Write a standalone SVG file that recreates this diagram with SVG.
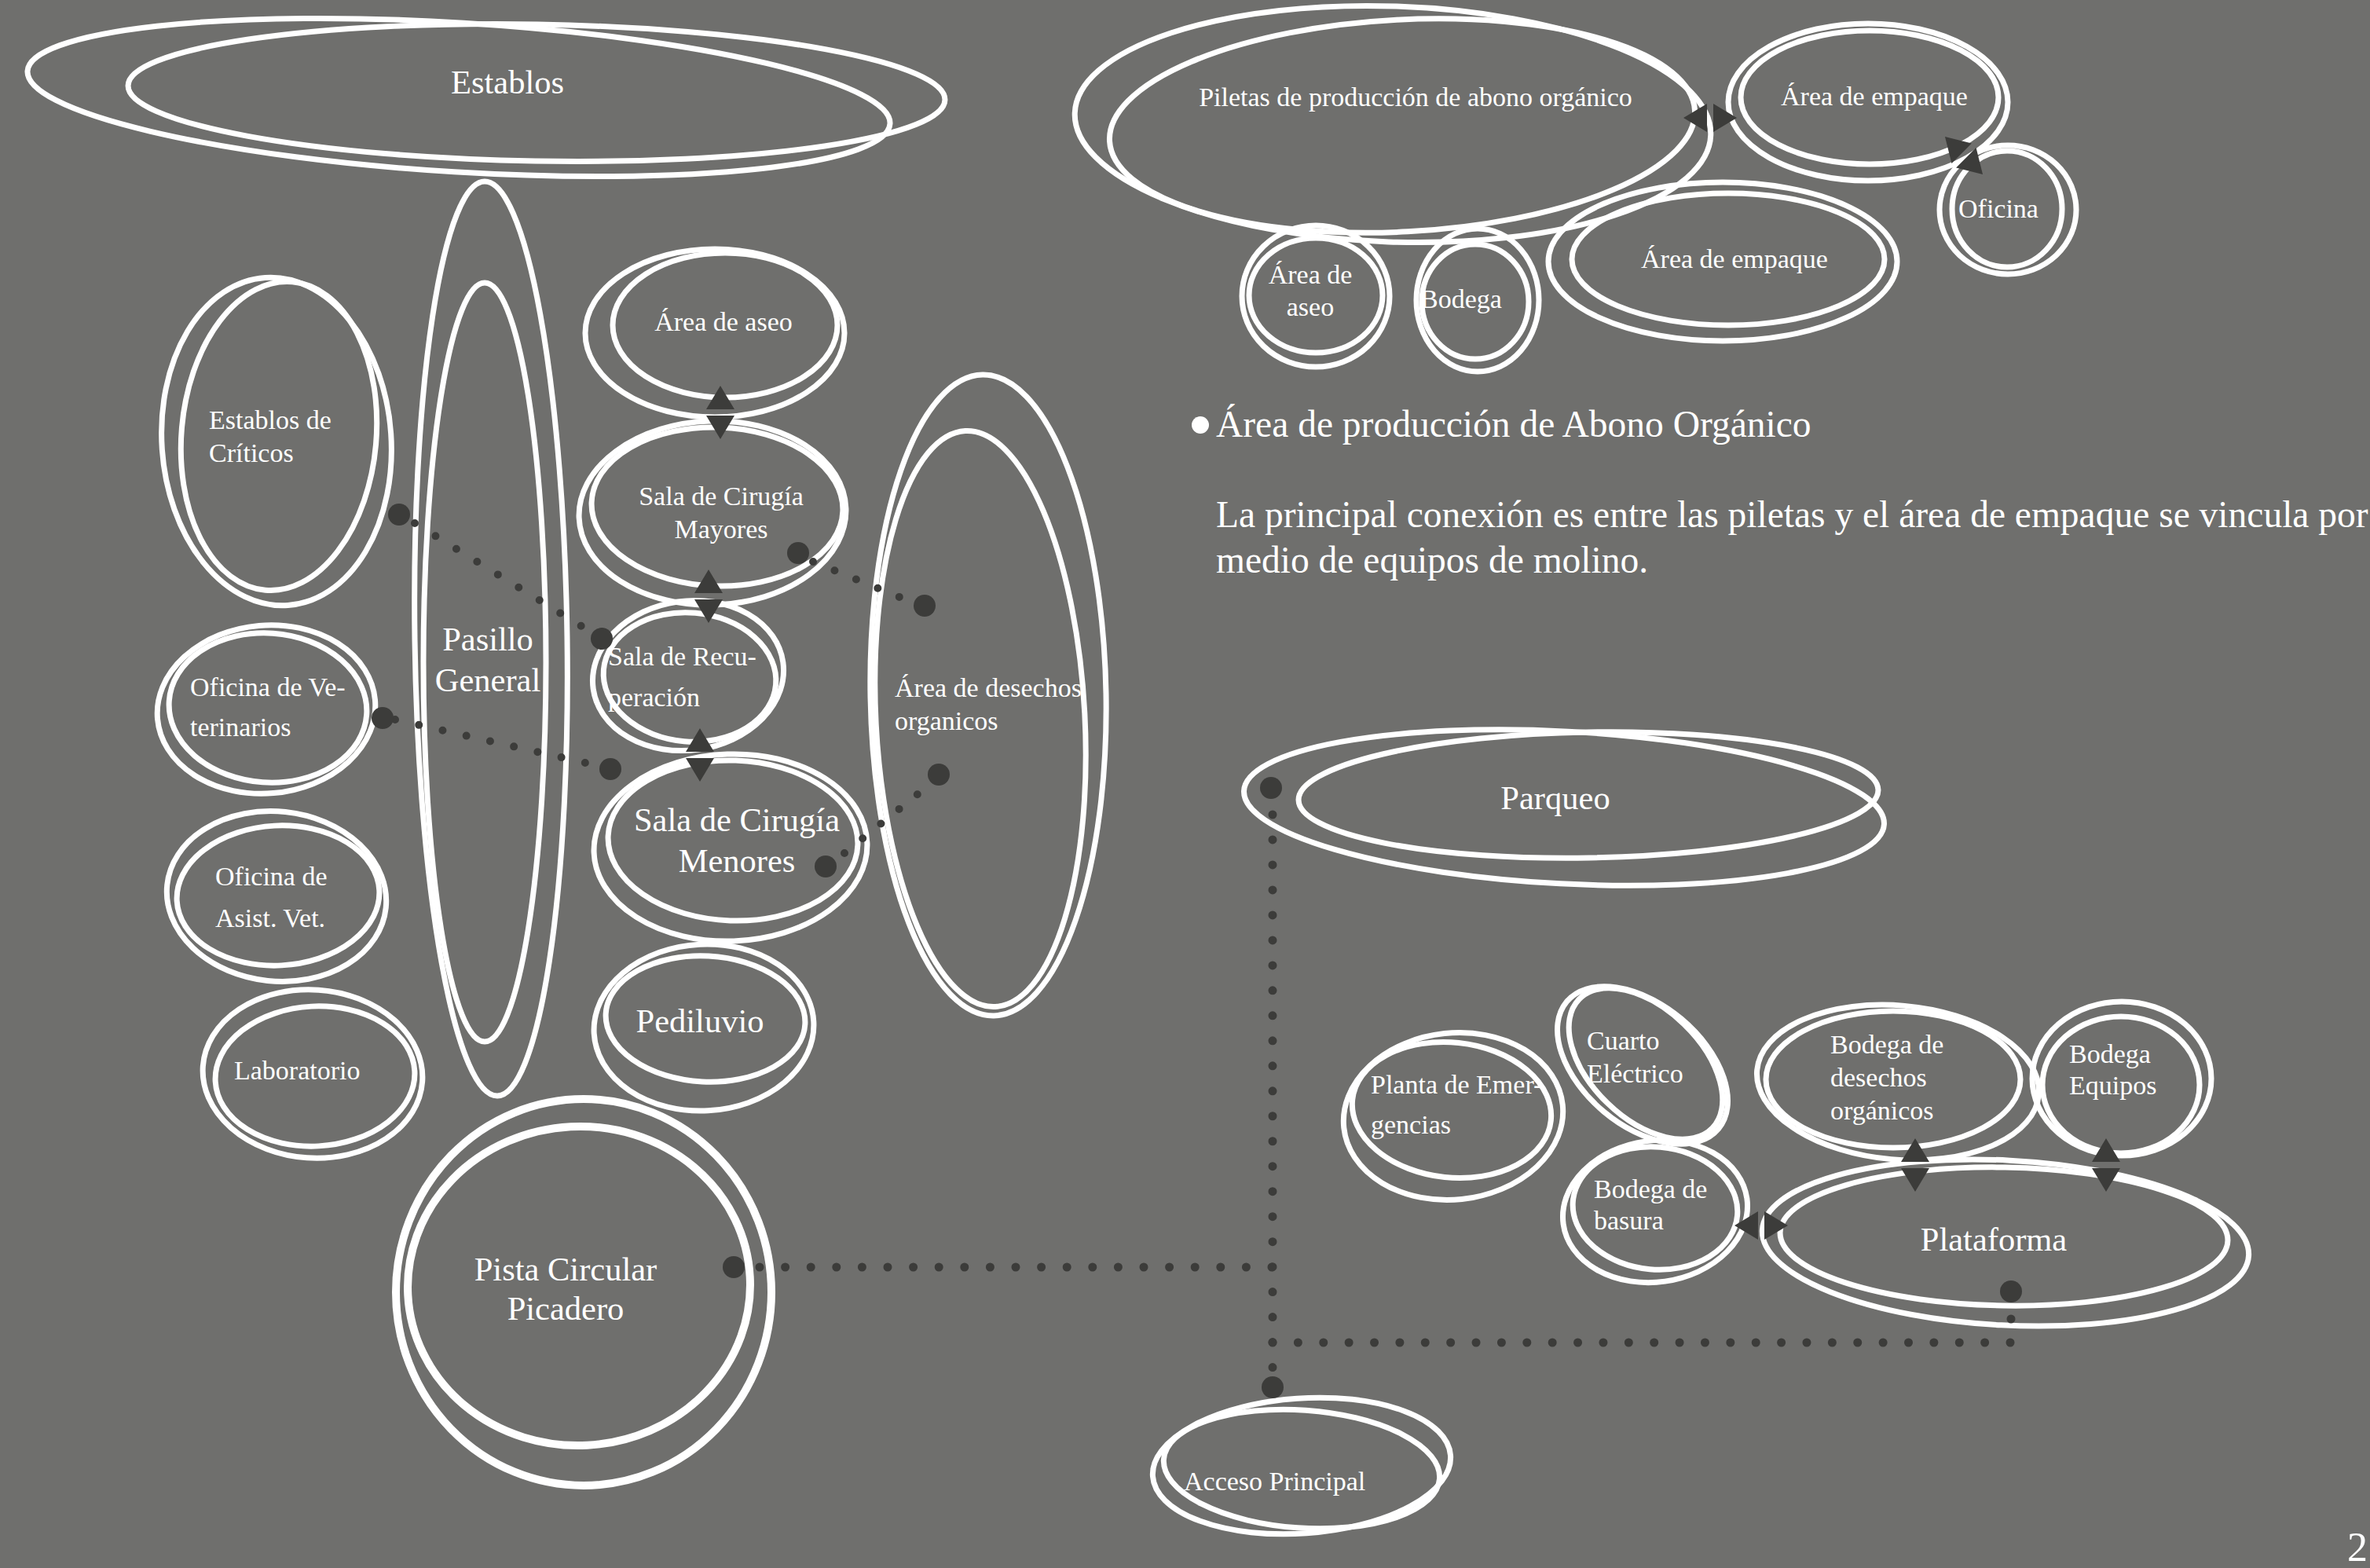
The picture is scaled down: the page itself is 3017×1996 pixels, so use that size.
<svg xmlns="http://www.w3.org/2000/svg" xmlns:xlink="http://www.w3.org/1999/xlink" width="3017" height="1996" viewBox="0 0 3017 1996">
<style>
.e{fill:none;stroke:#fff;stroke-width:7}
.ew{fill:none;stroke:#fff;stroke-width:10}
.t{font-family:"Liberation Serif","Times New Roman",serif;fill:#fff}
.s{font-size:34px}
.l{font-size:42.5px}
.p{font-size:47.5px}
.m{text-anchor:middle}
.dot{fill:#3c3c3a}
.dl{fill:none;stroke:#3c3c3a;stroke-linecap:round}
.arr{fill:#3c3c3a}
</style>
<defs>
<path id="dbl" d="M0,-34 L-18,-4 L18,-4 Z M-18,4 L18,4 L0,34 Z"/>
</defs>
<rect width="3017" height="1996" fill="#6f6f6d"/>

<g id="establos">
<ellipse class="e" cx="584" cy="124" rx="550" ry="95" transform="rotate(3.5 584 124)"/>
<ellipse class="e" cx="683" cy="118" rx="520" ry="87" transform="rotate(1 683 118)"/>
<text class="t l m" x="646" y="119">Establos</text>
</g>

<g id="pasillo-general">
<ellipse class="e" cx="625" cy="813" rx="97" ry="582" transform="rotate(-0.8 625 813)"/>
<ellipse class="e" cx="617" cy="843" rx="78" ry="483"/>
<text class="t l m" x="621" y="828">Pasillo</text>
<text class="t l m" x="621" y="880">General</text>
</g>

<g id="establos-criticos">
<ellipse class="e" cx="352" cy="562" rx="146" ry="209" transform="rotate(-4 352 562)"/>
<ellipse class="e" cx="355" cy="555" rx="124" ry="197" transform="rotate(5 355 555)"/>
<text class="t s" x="266" y="546">Establos de</text>
<text class="t s" x="266" y="588">Críticos</text>
</g>

<g id="oficina-veterinarios">
<ellipse class="e" cx="339" cy="903" rx="139" ry="107" transform="rotate(-5 339 903)"/>
<ellipse class="e" cx="341" cy="901" rx="126" ry="95" transform="rotate(4 341 901)"/>
<text class="t s" x="242" y="886">Oficina de Ve-</text>
<text class="t s" x="242" y="937">terinarios</text>
</g>

<g id="oficina-asist-vet">
<ellipse class="e" cx="352" cy="1141" rx="140" ry="108" transform="rotate(6 352 1141)"/>
<ellipse class="e" cx="354" cy="1140" rx="129" ry="89" transform="rotate(-3 354 1140)"/>
<text class="t s" x="274" y="1127">Oficina de</text>
<text class="t s" x="274" y="1180">Asist. Vet.</text>
</g>

<g id="laboratorio">
<ellipse class="e" cx="398" cy="1367" rx="140" ry="107" transform="rotate(4 398 1367)"/>
<ellipse class="e" cx="401" cy="1370" rx="127" ry="89" transform="rotate(-3 401 1370)"/>
<text class="t s" x="298" y="1374">Laboratorio</text>
</g>

<g id="area-aseo-1">
<ellipse class="e" cx="910" cy="424" rx="165" ry="107"/>
<ellipse class="e" cx="923" cy="414" rx="143" ry="92"/>
<text class="t s m" x="921" y="421">Área de aseo</text>
</g>

<g id="cirugia-mayores">
<ellipse class="e" cx="907" cy="653" rx="170" ry="117" transform="rotate(-2 907 653)"/>
<ellipse class="e" cx="913" cy="645" rx="160" ry="101" transform="rotate(2 913 645)"/>
<text class="t s m" x="918" y="643">Sala de Cirugía</text>
<text class="t s m" x="918" y="685">Mayores</text>
</g>

<g id="recuperacion">
<ellipse class="e" cx="876" cy="860" rx="122" ry="95" transform="rotate(-8 876 860)"/>
<ellipse class="e" cx="878" cy="862" rx="110" ry="82" transform="rotate(5 878 862)"/>
<text class="t s" x="774" y="847">Sala de Recu-</text>
<text class="t s" x="774" y="899">peración</text>
</g>

<g id="cirugia-menores">
<ellipse class="e" cx="930" cy="1079" rx="174" ry="119" transform="rotate(-2 930 1079)"/>
<ellipse class="e" cx="933" cy="1070" rx="159" ry="102" transform="rotate(2 933 1070)"/>
<text class="t l m" x="938" y="1058">Sala de Cirugía</text>
<text class="t l m" x="938" y="1110">Menores</text>
</g>

<g id="pediluvio">
<ellipse class="e" cx="896" cy="1308" rx="140" ry="106" transform="rotate(-3 896 1308)"/>
<ellipse class="e" cx="898" cy="1297" rx="127" ry="80" transform="rotate(3 898 1297)"/>
<text class="t l m" x="891" y="1314">Pediluvio</text>
</g>

<g id="desechos-organicos">
<ellipse class="e" cx="1258" cy="885" rx="150" ry="408" transform="rotate(-1 1258 885)"/>
<ellipse class="e" cx="1248" cy="915" rx="133" ry="367" transform="rotate(-3 1248 915)"/>
<text class="t s" x="1139" y="887">Área de desechos</text>
<text class="t s" x="1139" y="929">organicos</text>
</g>

<g id="pista-circular">
<ellipse class="ew" cx="743" cy="1645" rx="239" ry="246"/>
<ellipse class="ew" cx="737" cy="1637" rx="218" ry="203" transform="rotate(-3 737 1637)"/>
<text class="t l m" x="720" y="1630">Pista Circular</text>
<text class="t l m" x="720" y="1680">Picadero</text>
</g>

<g id="piletas">
<ellipse class="e" cx="1773" cy="158" rx="405" ry="150" transform="rotate(2 1773 158)"/>
<ellipse class="e" cx="1785" cy="160" rx="373" ry="135" transform="rotate(-3 1785 160)"/>
<text class="t s m" x="1802" y="135">Piletas de producción de abono orgánico</text>
</g>

<g id="area-empaque-1">
<ellipse class="e" cx="2378" cy="130" rx="178" ry="100"/>
<ellipse class="e" cx="2380" cy="124" rx="164" ry="85"/>
<text class="t s m" x="2386" y="134">Área de empaque</text>
</g>

<g id="oficina">
<ellipse class="e" cx="2556" cy="267" rx="87" ry="82"/>
<ellipse class="e" cx="2555" cy="266" rx="70" ry="74"/>
<text class="t s" x="2493" y="277">Oficina</text>
</g>

<g id="area-aseo-2">
<ellipse class="e" cx="1675" cy="377" rx="94" ry="90"/>
<ellipse class="e" cx="1675" cy="376" rx="85" ry="73"/>
<text class="t s m" x="1668" y="361">Área de</text>
<text class="t s m" x="1668" y="402">aseo</text>
</g>

<g id="bodega-1">
<ellipse class="e" cx="1881" cy="382" rx="78" ry="91"/>
<ellipse class="e" cx="1878" cy="384" rx="68" ry="73"/>
<text class="t s" x="1808" y="392">Bodega</text>
</g>

<g id="area-empaque-2">
<ellipse class="e" cx="2193" cy="333" rx="222" ry="101"/>
<ellipse class="e" cx="2200" cy="330" rx="199" ry="84"/>
<text class="t s m" x="2208" y="341">Área de empaque</text>
</g>

<g id="nota">
<circle fill="#fff" cx="1528" cy="541" r="11"/>
<text class="t p" x="1548" y="556">Área de producción de Abono Orgánico</text>
<text class="t p" x="1548" y="671">La principal conexión es entre las piletas y el área de empaque se vincula por</text>
<text class="t p" x="1548" y="729">medio de equipos de molino.</text>
</g>

<g id="parqueo">
<ellipse class="e" cx="1991" cy="1028" rx="408" ry="97" transform="rotate(3 1991 1028)"/>
<ellipse class="e" cx="2022" cy="1012" rx="369" ry="80" transform="rotate(-1 2022 1012)"/>
<text class="t l m" x="1980" y="1030">Parqueo</text>
</g>

<g id="acceso-principal">
<ellipse class="e" cx="1657" cy="1866" rx="190" ry="86" transform="rotate(-4 1657 1866)"/>
<ellipse class="e" cx="1657" cy="1870" rx="176" ry="75" transform="rotate(4 1657 1870)"/>
<text class="t s" x="1507" y="1897">Acceso Principal</text>
</g>

<g id="planta-emergencias">
<ellipse class="e" cx="1850" cy="1421" rx="140" ry="106" transform="rotate(-6 1850 1421)"/>
<ellipse class="e" cx="1848" cy="1413" rx="127" ry="86" transform="rotate(6 1848 1413)"/>
<text class="t s" x="1745" y="1392">Planta de Emer-</text>
<text class="t s" x="1745" y="1443">gencias</text>
</g>

<g id="cuarto-electrico">
<ellipse class="e" cx="2091" cy="1356" rx="126" ry="77" transform="rotate(40 2091 1356)"/>
<ellipse class="e" cx="2095" cy="1354" rx="118" ry="70" transform="rotate(44 2095 1354)"/>
<text class="t s" x="2020" y="1336">Cuarto</text>
<text class="t s" x="2020" y="1378">Eléctrico</text>
</g>

<g id="bodega-basura">
<ellipse class="e" cx="2107" cy="1542" rx="118" ry="90" transform="rotate(-8 2107 1542)"/>
<ellipse class="e" cx="2107" cy="1538" rx="105" ry="78" transform="rotate(5 2107 1538)"/>
<text class="t s" x="2029" y="1525">Bodega de</text>
<text class="t s" x="2029" y="1565">basura</text>
</g>

<g id="bodega-desechos">
<ellipse class="e" cx="2416" cy="1378" rx="180" ry="98" transform="rotate(5 2416 1378)"/>
<ellipse class="e" cx="2410" cy="1374" rx="162" ry="87"/>
<text class="t s" x="2330" y="1341">Bodega de</text>
<text class="t s" x="2330" y="1383">desechos</text>
<text class="t s" x="2330" y="1425">orgánicos</text>
</g>

<g id="bodega-equipos">
<ellipse class="e" cx="2701" cy="1373" rx="114" ry="98"/>
<ellipse class="e" cx="2700" cy="1381" rx="100" ry="87"/>
<text class="t s" x="2634" y="1353">Bodega</text>
<text class="t s" x="2634" y="1393">Equipos</text>
</g>

<g id="plataforma">
<ellipse class="e" cx="2553" cy="1582" rx="310" ry="105" transform="rotate(3 2553 1582)"/>
<ellipse class="e" cx="2551" cy="1574" rx="285" ry="88" transform="rotate(1 2551 1574)"/>
<text class="t l m" x="2538" y="1592">Plataforma</text>
</g>

<g id="connectors">
<path class="dl" stroke-width="10" stroke-dasharray="0 31.1" d="M528,666 L740,797"/>
<path class="dl" stroke-width="10" stroke-dasharray="0 31" d="M503,916 L745,971"/>
<path class="dl" stroke-width="10" stroke-dasharray="0 29.65" d="M1035,715 L1145,760"/>
<path class="dl" stroke-width="10" stroke-dasharray="0 29.8" d="M1075,1086 L1168,1011"/>
<path class="dl" stroke-width="11" stroke-dasharray="0 32.6" d="M967,1613 L1620,1613"/>
<path class="dl" stroke-width="11" stroke-dasharray="0 31.98" d="M1620,1037 L1620,1741"/>
<path class="dl" stroke-width="11" stroke-dasharray="0 32.38" d="M1620,1709 L2560,1709"/>
<circle class="dot" cx="2560" cy="1679" r="5.5"/>
<circle class="dot" cx="508" cy="655" r="14"/>
<circle class="dot" cx="766" cy="813" r="14"/>
<circle class="dot" cx="487" cy="914" r="14"/>
<circle class="dot" cx="777" cy="979" r="14"/>
<circle class="dot" cx="1016" cy="704" r="14"/>
<circle class="dot" cx="1177" cy="771" r="14"/>
<circle class="dot" cx="1051" cy="1103" r="14"/>
<circle class="dot" cx="1195" cy="986" r="14"/>
<circle class="dot" cx="934" cy="1613" r="14"/>
<circle class="dot" cx="1618" cy="1003" r="14"/>
<circle class="dot" cx="1620" cy="1766" r="14"/>
<circle class="dot" cx="2560" cy="1644" r="14"/>
<use class="arr" xlink:href="#dbl" href="#dbl" transform="translate(917 525)"/>
<use class="arr" xlink:href="#dbl" href="#dbl" transform="translate(902 759)"/>
<use class="arr" xlink:href="#dbl" href="#dbl" transform="translate(891 961)"/>
<use class="arr" xlink:href="#dbl" href="#dbl" transform="translate(2438 1483)"/>
<use class="arr" xlink:href="#dbl" href="#dbl" transform="translate(2681 1483)"/>
<use class="arr" xlink:href="#dbl" href="#dbl" transform="translate(2177 150) rotate(-90)"/>
<use class="arr" xlink:href="#dbl" href="#dbl" transform="translate(2242 1560) rotate(-90)"/>
<use class="arr" xlink:href="#dbl" href="#dbl" transform="translate(2500 198) rotate(-45)"/>
</g>

<text class="t" font-size="52" text-anchor="end" x="3014" y="1987">2</text>
</svg>
